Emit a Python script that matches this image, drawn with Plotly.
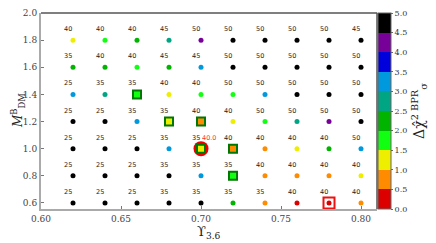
import plotly.graph_objects as go

x_vals = [0.62, 0.64, 0.66, 0.68, 0.70, 0.72, 0.74, 0.76, 0.78, 0.80]
y_vals = [1.8, 1.6, 1.4, 1.2, 1.0, 0.8, 0.6]

# labels above points (rows top to bottom)
labels = [
    [40, 40, 40, 45, 50, 50, 50, 50, 50, 45],
    [35, 40, 40, 45, 45, 50, 50, 50, 50, 50],
    [25, 35, 35, 40, 40, 50, 50, 50, 50, 50],
    [25, 25, 35, 35, 40, 40, 50, 50, 50, 50],
    [25, 25, 25, 35, 35, 40, 40, 40, 40, 50],
    [25, 25, 25, 35, 35, 35, 40, 40, 40, 40],
    [25, 25, 25, 35, 35, 35, 35, 40, 40, 40],
]

# Delta chi^2 values (estimated from colour bins)
dchi = [
    [1.25, 1.75, 2.25, 2.75, 4.25, 4.9, 4.9, 4.9, 4.9, 4.9],
    [2.25, 2.25, 1.75, 2.25, 3.25, 4.9, 4.9, 4.9, 4.9, 4.9],
    [3.25, 2.75, 1.75, 1.25, 1.75, 1.75, 3.25, 4.9, 4.9, 4.9],
    [4.9, 4.9, 3.25, 1.25, 0.75, 1.25, 1.75, 2.75, 4.25, 4.9],
    [4.9, 4.9, 4.9, 3.25, 1.25, 0.75, 0.75, 1.25, 2.25, 3.25],
    [4.9, 4.9, 4.9, 4.9, 3.25, 1.75, 0.75, 0.75, 0.75, 1.25],
    [4.9, 4.9, 4.9, 4.9, 4.9, 2.25, 0.75, 0.25, 0.05, 0.75],
]

square_pts = [(0.66, 1.4), (0.68, 1.2), (0.70, 1.2), (0.70, 1.0), (0.72, 1.0), (0.72, 0.8)]
circle_pt = (0.70, 1.0)
best_pt = (0.78, 0.6)
best_label = "40.0"

bin_colors = ["#dd0000", "#ff8c00", "#eeee00", "#11ff11", "#00b400",
              "#00a584", "#0099dd", "#0000dd", "#770099", "#000000"]

colorscale = []
for i, c in enumerate(bin_colors):
    colorscale.append([i / 10, c])
    colorscale.append([(i + 1) / 10, c])

xs, ys, vs = [], [], []
for r, y in enumerate(y_vals):
    for c, x in enumerate(x_vals):
        xs.append(x)
        ys.append(y)
        vs.append(dchi[r][c])

def value_at(x, y):
    return dchi[y_vals.index(y)][x_vals.index(x)]

fig = go.Figure()

# red circle (behind)
fig.add_trace(go.Scatter(x=[circle_pt[0]], y=[circle_pt[1]], mode="markers",
                         marker=dict(symbol="circle", size=15, color="#ee0000",
                                     line=dict(width=0)), showlegend=False, hoverinfo="skip"))
# red square around best
fig.add_trace(go.Scatter(x=[best_pt[0]], y=[best_pt[1]], mode="markers",
                         marker=dict(symbol="square", size=11, color="white",
                                     line=dict(width=2, color="#ee1111")),
                         showlegend=False, hoverinfo="skip"))

# main points
fig.add_trace(go.Scatter(
    x=xs, y=ys, mode="markers",
    marker=dict(size=5, color=vs, colorscale=colorscale, cmin=0, cmax=5,
                line=dict(width=0),
                colorbar=dict(
                    x=1.003, xanchor="left", y=0.5, yanchor="middle", len=1.0,
                    thickness=13, xpad=0, ypad=0, outlinewidth=1, outlinecolor="#666",
                    tickvals=[0, 0.5, 1, 1.5, 2, 2.5, 3, 3.5, 4, 4.5, 5],
                    ticktext=["0.0", "0.5", "1.0", "1.5", "2.0", "2.5", "3.0", "3.5", "4.0", "4.5", "5.0"],
                    ticks="outside", ticklen=2, tickcolor="#666",
                    ticklabeloverflow="allow",
                    tickfont=dict(family="DejaVu Serif", size=8, color="#333"),
                    title=dict(text="Δχ̂<sup>2 BPR</sup><sub>σ</sub>", side="right",
                               font=dict(family="DejaVu Serif", size=14, color="#222")),
                )),
    showlegend=False))

# green squares
sq_vals = [value_at(x, y) for x, y in square_pts]
fig.add_trace(go.Scatter(x=[p[0] for p in square_pts], y=[p[1] for p in square_pts], mode="markers",
                         marker=dict(symbol="square", size=8, color=sq_vals, colorscale=colorscale,
                                     cmin=0, cmax=5, line=dict(width=2, color="#007700")),
                         showlegend=False, hoverinfo="skip"))

# labels
for r, y in enumerate(y_vals):
    for c, x in enumerate(x_vals):
        fig.add_annotation(x=x, y=y, text=str(labels[r][c]), showarrow=False,
                           xshift=-5, yshift=11,
                           font=dict(family="DejaVu Sans", size=6.5, color="#222"))
fig.add_annotation(x=circle_pt[0], y=circle_pt[1], text=best_label, showarrow=False,
                   xshift=8, yshift=11, font=dict(family="DejaVu Sans", size=6.5, color="#ff3333"))

# axis titles
fig.add_annotation(xref="paper", yref="paper", x=0.5, y=0, yshift=-23, text="ϒ<sub>3.6</sub>",
                   showarrow=False, yanchor="middle",
                   font=dict(family="DejaVu Serif", size=13, color="#222"))
fig.add_annotation(xref="paper", yref="paper", x=0, y=0.5, xshift=-23, text="<i>M</i><sup>B</sup><sub>DM</sub>",
                   showarrow=False, textangle=-90, xanchor="center",
                   font=dict(family="DejaVu Serif", size=12, color="#222"))

# top and right frame
fig.add_shape(type="line", xref="paper", yref="paper", x0=0, x1=1, y0=1, y1=1,
              line=dict(color="#555", width=1.5))
fig.add_shape(type="line", xref="paper", yref="paper", x0=1, x1=1, y0=0, y1=1,
              line=dict(color="#555", width=1.5))

# page body has an 8px margin; compensate in figure size/margins
fig.update_layout(
    width=428, height=235,
    margin=dict(l=33, r=59, t=5, b=34, autoexpand=False),
    paper_bgcolor="white", plot_bgcolor="white",
    font=dict(family="DejaVu Serif", color="#333"),
    xaxis=dict(range=[0.60, 0.81], tickvals=[0.60, 0.65, 0.70, 0.75, 0.80],
               ticktext=["0.60", "0.65", "0.70", "0.75", "0.80"],
               showgrid=False, zeroline=False, showline=True, linecolor="#aaa", linewidth=2,
               ticks="inside", ticklen=3, tickcolor="#777", ticklabeloverflow="allow",
               tickfont=dict(family="DejaVu Serif", size=9, color="#444")),
    yaxis=dict(range=[0.555, 2.0], tickvals=[0.6, 0.8, 1.0, 1.2, 1.4, 1.6, 1.8, 2.0],
               ticktext=["0.6", "0.8", "1.0", "1.2", "1.4", "1.6", "1.8", "2.0"],
               showgrid=False, zeroline=False, showline=True, linecolor="#aaa", linewidth=2,
               ticks="inside", ticklen=3, tickcolor="#777", ticklabeloverflow="allow",
               tickfont=dict(family="DejaVu Serif", size=9, color="#444")),
)

fig.write_html("out.html")
